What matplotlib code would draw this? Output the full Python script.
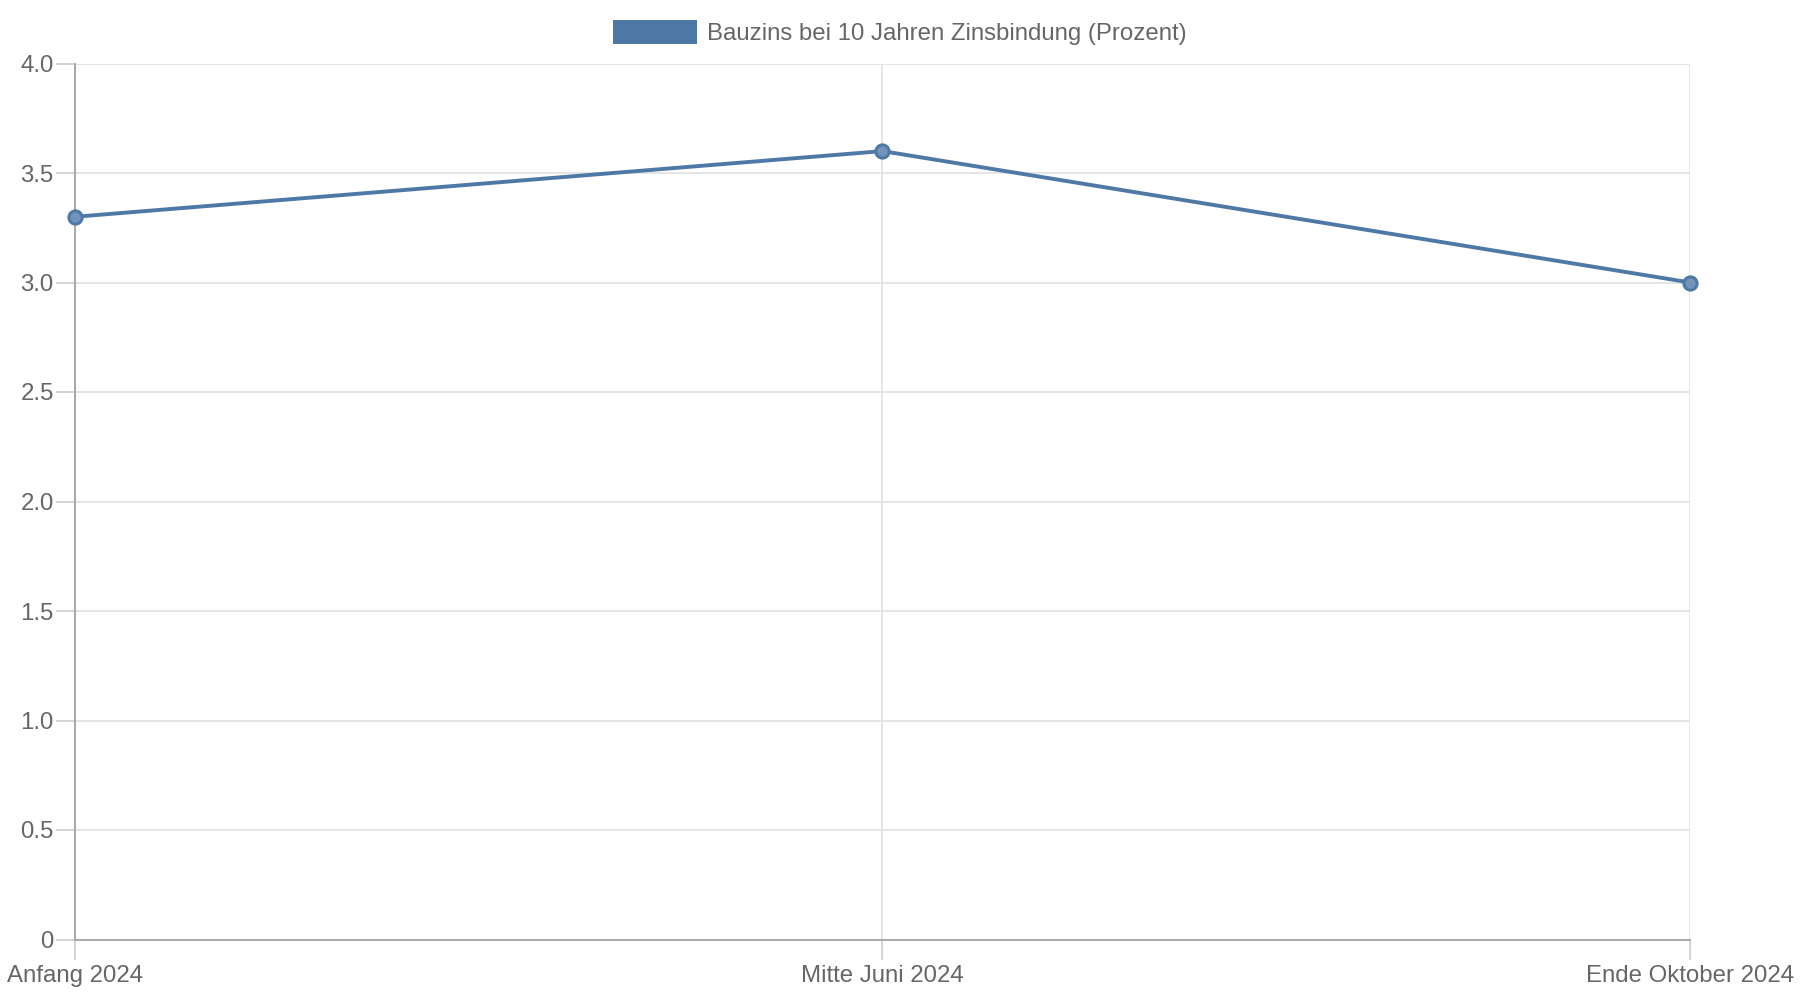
import matplotlib.pyplot as plt
from matplotlib.patches import Patch

# Daten
zeitpunkte = ["Anfang 2024", "Mitte Juni 2024", "Ende Oktober 2024"]
bauzins = [3.3, 3.6, 3.0]
y_ticks = [0, 0.5, 1.0, 1.5, 2.0, 2.5, 3.0, 3.5, 4.0]
y_labels = ["0", "0.5", "1.0", "1.5", "2.0", "2.5", "3.0", "3.5", "4.0"]
serie_name = "Bauzins bei 10 Jahren Zinsbindung (Prozent)"

blau = "#4e79a7"
text_farbe = "#666666"
fs = 17.3

plt.rcParams["font.family"] = ["Liberation Sans", "DejaVu Sans"]

fig = plt.figure(figsize=(18, 10), dpi=100)
ax = fig.add_axes([0.0415, 0.0605, 0.8975, 0.876])

x = list(range(len(zeitpunkte)))
ax.plot(x, bauzins, color=blau, linewidth=2.8, marker="o", markersize=9.5,
        markerfacecolor="#7393ba", markeredgecolor=blau, markeredgewidth=2.2,
        clip_on=False, zorder=3)

ax.set_xlim(0, 2)
ax.set_ylim(0, 4)
ax.set_xticks(x)
ax.set_xticklabels(zeitpunkte)
ax.set_yticks(y_ticks)
ax.set_yticklabels(y_labels)

ax.grid(True, color="#e3e3e3", linewidth=1.3)
ax.set_axisbelow(True)
for s in ["top", "right"]:
    ax.spines[s].set_visible(False)
for s in ["left", "bottom"]:
    ax.spines[s].set_color("#a8a8a8")
    ax.spines[s].set_linewidth(1.4)

ax.tick_params(axis="y", length=14, width=1.3, color="#d0d0d0", pad=1,
               labelsize=fs, labelcolor=text_farbe)
ax.tick_params(axis="x", length=14.5, width=1.3, color="#d0d0d0", pad=4,
               labelsize=fs, labelcolor=text_farbe)

fig.legend(handles=[Patch(facecolor=blau, edgecolor="none", label=serie_name)],
           loc="upper center", bbox_to_anchor=(0.5, 0.9895), frameon=False,
           fontsize=fs, labelcolor=text_farbe, handlelength=3.5,
           handleheight=1.17, handletextpad=0.42, borderaxespad=0)

fig.savefig("out.png", dpi=100, facecolor="white")
